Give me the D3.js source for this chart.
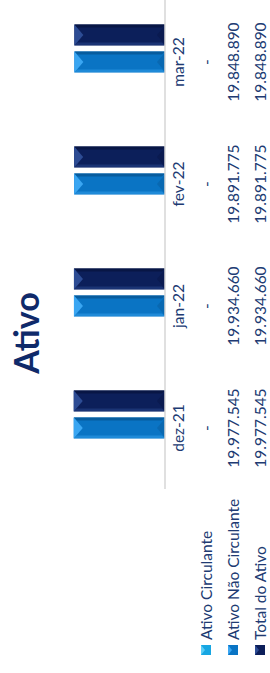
<!DOCTYPE html>
<html>
<head>
<meta charset="utf-8">
<script src="https://cdn.jsdelivr.net/npm/d3@7"></script>
<style>
  body { margin: 0; background: #fff; }
  text { font-family: Lato, "Open Sans", sans-serif; }
</style>
</head>
<body>
<div id="main"></div>
<script>
// data
var categories = ["dez-21", "jan-22", "fev-22", "mar-22"];
var seriesNames = ["Ativo Circulante", "Ativo Não Circulante", "Total do Ativo"];
var ativoCirculante = [0, 0, 0, 0];
var ativoNaoCirculante = [19977545, 19934660, 19891775, 19848890];
var totalAtivo = [19977545, 19934660, 19891775, 19848890];

// chart is laid out landscape then turned a quarter turn
var W = 673, H = 270;
var textColor = "#203a72";

// base / light / dark tone for each series
var colors = [
  {base: "#17a6e2", light: "#5ccdf6", dark: "#0f86bb"},
  {base: "#0a74c4", light: "#3aa6f2", dark: "#075c9e"},
  {base: "#0c1f5a", light: "#2d4c94", dark: "#081645"}
];

var values = [ativoCirculante, ativoNaoCirculante, totalAtivo];

var svg = d3.select("#main").append("svg")
    .attr("width", H)
    .attr("height", W);

var g = svg.append("g")
    .attr("transform", "translate(0," + W + ") rotate(-90)");

// scales
var x0 = d3.scaleBand()
    .domain(categories)
    .range([184, 672]);

var groupWidth = 75;
var x1 = d3.scaleBand()
    .domain(seriesNames)
    .range([0, groupWidth])
    .paddingInner(6 / 27);

var y = d3.scaleLinear()
    .domain([0, 30000000])
    .range([165, 28]);

// title
g.append("text")
    .attr("x", 340)
    .attr("y", 39)
    .attr("text-anchor", "middle")
    .style("font-size", "34px")
    .style("font-weight", "bold")
    .style("fill", "#0f2a6a")
    .text("Ativo");

// bars with a simple bevel look
var bars = [];
seriesNames.forEach(function(s, si) {
  categories.forEach(function(c, ci) {
    bars.push({series: s, si: si, cat: c, value: values[si][ci]});
  });
});

var barG = g.selectAll(".bar")
    .data(bars.filter(function(d) { return d.value > 0; }))
    .enter().append("g")
    .attr("class", "bar");

function bx(d) { return x0(d.cat) + (x0.bandwidth() - groupWidth) / 2 + x1(d.series); }

barG.append("rect")
    .attr("x", bx)
    .attr("y", function(d) { return y(d.value); })
    .attr("width", x1.bandwidth())
    .attr("height", function(d) { return y(0) - y(d.value); })
    .style("fill", function(d) { return colors[d.si].base; });

// side strips
barG.append("polygon")
    .attr("points", function(d) {
      var a = bx(d), t = y(d.value), b = y(0), e = 3;
      return [[a, t], [a + e, t + e], [a + e, b - e], [a, b]].join(" ");
    })
    .style("fill", function(d) { return colors[d.si].light; })
    .style("opacity", 0.45);

barG.append("polygon")
    .attr("points", function(d) {
      var a = bx(d) + x1.bandwidth(), t = y(d.value), b = y(0), e = 3;
      return [[a, t], [a - e, t + e], [a - e, b - e], [a, b]].join(" ");
    })
    .style("fill", function(d) { return colors[d.si].dark; });

// top and bottom triangles
barG.append("polygon")
    .attr("points", function(d) {
      var a = bx(d), w = x1.bandwidth(), t = y(d.value);
      return [[a, t], [a + w, t], [a + w / 2, t + 9]].join(" ");
    })
    .style("fill", function(d) { return colors[d.si].light; });

barG.append("polygon")
    .attr("points", function(d) {
      var a = bx(d), w = x1.bandwidth(), b = y(0);
      return [[a + 1, b], [a + w - 1, b], [a + w / 2, b - 8]].join(" ");
    })
    .style("fill", function(d) { return colors[d.si].dark; })
    .style("opacity", 0.5);

// category axis line
g.append("line")
    .attr("x1", 184)
    .attr("x2", W)
    .attr("y1", y(0))
    .attr("y2", y(0))
    .style("stroke", "#d6d6d6")
    .style("stroke-width", 1.5);

// data table: category labels and one row per series
var rowY = [184, 212, 239, 266];

g.selectAll(".cat")
    .data(categories)
    .enter().append("text")
    .attr("class", "cat")
    .attr("x", function(d) { return x0(d) + x0.bandwidth() / 2; })
    .attr("y", rowY[0])
    .attr("text-anchor", "middle")
    .style("font-size", "15.5px")
    .style("fill", textColor)
    .text(function(d) { return d; });

var fmt = function(v) {
  if (v === 0) return "-";
  return d3.format(",")(v).replace(/,/g, ".");
};

seriesNames.forEach(function(s, si) {
  g.selectAll(".row" + si)
      .data(categories)
      .enter().append("text")
      .attr("class", "row" + si)
      .attr("x", function(d) { return x0(d) + x0.bandwidth() / 2; })
      .attr("y", rowY[si + 1])
      .attr("text-anchor", "middle")
      .style("font-size", "15.5px")
      .style("fill", textColor)
      .text(function(d, i) { return fmt(values[si][i]); });
});

// legend
var leg = g.selectAll(".legend")
    .data(seriesNames)
    .enter().append("g")
    .attr("class", "legend");

leg.append("rect")
    .attr("x", 18)
    .attr("y", function(d, i) { return rowY[i + 1] - 11; })
    .attr("width", 10)
    .attr("height", 10)
    .style("fill", function(d, i) { return colors[i].base; });

leg.append("polygon")
    .attr("points", function(d, i) {
      var t = rowY[i + 1] - 11;
      return [[18, t], [28, t], [23, t + 4]].join(" ");
    })
    .style("fill", function(d, i) { return colors[i].light; });

leg.append("text")
    .attr("x", 33)
    .attr("y", function(d, i) { return rowY[i + 1]; })
    .style("font-size", "15.5px")
    .style("fill", textColor)
    .text(function(d) { return d; });
</script>
</body>
</html>
